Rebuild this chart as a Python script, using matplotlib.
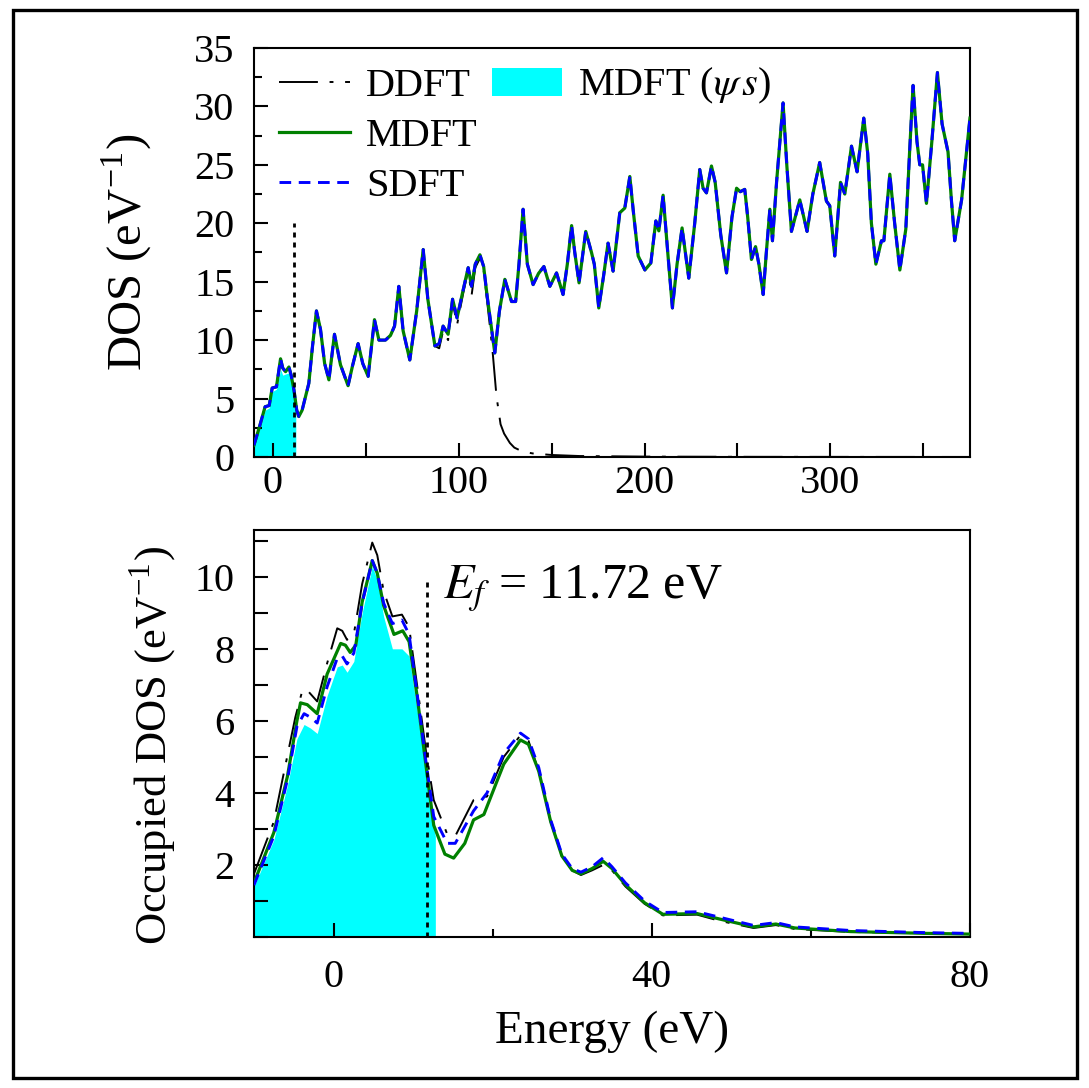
import matplotlib
matplotlib.use('Agg')
import matplotlib.pyplot as plt
import matplotlib.ticker as mticker
from matplotlib.lines import Line2D
from matplotlib.patches import Patch, Rectangle

plt.rcParams['font.family'] = 'Liberation Serif'
plt.rcParams['mathtext.fontset'] = 'stix'

# ---- top panel: full DOS ----
e_top = [-10, -7, -4.0, -1.8, -0.2, 2.1, 4.3, 5.5, 7.0, 8.8, 10.0, 11.5, 13.0, 14.1, 15.9,
         19.5, 21.5, 23.6, 25.8, 28, 30.3, 33.3, 36.5, 40.6, 43, 46.0, 48.5, 51.4, 54.8,
         57.2, 60.7, 63.4, 65.6, 67.9, 70.2, 73.8, 77.5, 81.0, 83.5, 87.3, 89.6, 91.7,
         94.4, 96.8, 99.2, 102.5, 105.2, 107.0, 109, 111.5, 113.5, 115.4, 119.5, 122,
         124.9, 128.5, 130.7, 132.5, 134.7, 137, 140.1, 143, 145.9, 149.1, 152.7, 156.2,
         158.5, 160.8, 162.5, 164.8, 168.4, 171.5, 173, 175.4, 178, 180.4, 183.1, 186.7,
         189.4, 192.1, 194, 196.6, 200.2, 203.4, 206.1, 207.7, 210.0, 212.5, 215.0, 217.5,
         220.2, 223.8, 227.0, 229.7, 231.5, 233.3, 236.0, 238, 241, 244.1, 247, 249.5,
         251.5, 253.9, 255.5, 257.5, 259.7, 261.5, 263.8, 265.5, 267.4, 268.8, 271, 274.5,
         276.5, 279.0, 283.5, 287.4, 290.5, 294.2, 297.8, 299.6, 302.3, 305.4, 307.7,
         311.3, 314.3, 317.9, 320, 322, 324.4, 327.4, 328.7, 331.9, 334.5, 337.3, 340.5,
         342.5, 344.4, 346.5, 348.0, 349.5, 351.6, 354.5, 357.5, 360, 363.2, 365, 366.8,
         370.5, 374.5, 375]
mdft_top = [1.0, 2.6, 4.3, 4.4, 5.9, 6.0, 8.4, 7.6, 7.3, 7.7, 7.0, 5.75, 4.0, 3.46, 4.0,
            6.3, 9.5, 12.5, 10.9, 8.0, 6.6, 10.5, 7.9, 6.1, 7.8, 9.7, 8.0, 6.9, 11.75,
            10.0, 10.0, 10.4, 11.2, 14.6, 10.8, 8.3, 12.5, 17.75, 13.5, 9.5, 9.7, 11.2,
            10.5, 13.5, 11.9, 14.3, 16.2, 14.6, 16.5, 17.3, 16.3, 13.75, 8.9, 12.5,
            15.2, 13.3, 13.3, 16.5, 21.2, 16.5, 14.75, 15.7, 16.3, 14.6, 15.75, 13.9,
            16.5, 19.8, 17.5, 14.9, 19.3, 17.5, 16.5, 12.75, 15.5, 18.3, 15.9, 20.9,
            21.3, 24.0, 21.0, 17.2, 16.0, 16.6, 20.2, 19.35, 22.4, 17.5, 12.75, 16.5,
            19.6, 15.3, 20.0, 24.6, 23.0, 22.6, 24.9, 23.5, 19.0, 15.75, 20.5, 23.0,
            22.7, 22.9, 20.5, 16.9, 18.0, 16.5, 13.9, 17.5, 21.2, 18.5, 23.5, 30.3,
            25.0, 19.3, 22.0, 19.3, 22.5, 25.2, 21.9, 21.5, 17.2, 23.5, 22.5,
            26.6, 24.4, 29.0, 26.0, 20.0, 16.5, 18.5, 18.5, 24.2, 20.0, 16.0, 19.5,
            26.0, 31.8, 27.0, 25.0, 25.0, 21.7, 27.0, 32.9, 28.5, 26.1, 22.0, 18.5,
            22.0, 28.3, 29.0]
sdft_top = list(mdft_top)

e_ddft_top = [-10, -7, -4.0, -1.8, -0.2, 2.1, 4.3, 5.5, 7.0, 8.8, 10.0, 11.5, 13.0, 14.1,
              15.9, 19.5, 21.5, 23.6, 25.8, 28, 30.3, 33.3, 36.5, 40.6, 43, 46.0, 48.5,
              51.4, 54.8, 57.2, 60.7, 63.4, 65.6, 67.9, 70.2, 73.8, 77.5, 81.0, 83.5,
              87.3, 89.6, 91.7, 94.4, 96.8, 99.2, 102.5, 105.2, 107.0, 109, 111.5, 113.5,
              115.4, 117, 118.5, 120.4, 122.6, 124.5, 127.6, 130, 134.6, 140, 150, 165,
              200, 260, 375]
ddft_top = [1.0, 2.6, 4.3, 4.4, 5.9, 6.0, 8.4, 7.6, 7.3, 7.7, 7.0, 5.75, 4.0, 3.46,
            4.0, 6.3, 9.5, 12.5, 10.9, 8.0, 6.6, 10.5, 7.9, 6.1, 7.8, 9.7, 8.0,
            6.9, 11.75, 10.0, 10.0, 10.4, 11.2, 14.6, 10.8, 8.3, 12.5, 17.75, 13.5,
            9.5, 9.3, 10.8, 10.0, 13.3, 11.3, 14.0, 16.0, 13.8, 16.2, 17.0, 16.0,
            13.3, 11.0, 8.7, 5.2, 2.8, 2.0, 1.2, 0.8, 0.45, 0.3, 0.17, 0.08,
            0.03, 0.01, 0.0]

e_fill_top = [-10, -7, -4.0, -1.8, -0.2, 2.1, 4.3, 5.5, 7.0, 8.8, 10.0, 11.5, 12.5]
fill_top = [0.9, 2.4, 4.0, 4.2, 5.6, 5.8, 7.5, 7.0, 7.1, 7.2, 6.5, 5.3, 4.5]

# ---- bottom panel: occupied DOS ----
e_sdft = [-10, -7.5, -5.8, -4.6, -3.7, -2.9, -2.05, -0.8, 0.47, 1.1, 1.7, 2.55, 3.6, 4.87,
          5.5, 6.3, 7.4, 8.6, 9.5, 10.5, 11.6, 12.6, 14.3, 15.3, 17.6, 19.3, 21.4, 23.5,
          24.5, 25.8, 27.3, 28.7, 30, 31.1, 32.5, 33.9, 35, 36.7, 39.1, 41.4, 45.7, 48.5,
          52.8, 55.6, 58, 65, 74.5, 80]
sdft_occ = [1.44, 2.8, 4.36, 5.84, 6.2, 6.1, 5.94, 6.95, 7.74, 7.8, 7.58, 7.88, 9.27, 10.45,
            10.1, 9.27, 8.7, 8.8, 8.4, 6.77, 4.9, 3.34, 2.6, 2.6, 3.5, 4.0, 5.1, 5.66,
            5.5, 4.7, 3.25, 2.3, 1.9, 1.8, 1.95, 2.2, 1.95, 1.5, 1.0, 0.68, 0.7, 0.55,
            0.32, 0.4, 0.28, 0.18, 0.12, 0.1]

e_ddft = [-10, -7.5, -6.25, -4.8, -3.9, -3.3, -2.05, -0.8, 0.47, 1.1, 1.7, 2.55, 3.6, 4.87,
          5.5, 6.3, 7.4, 8.6, 9.5, 10.5, 11.6, 12.6, 14.3, 15.3, 17.6, 19.3, 21.4, 23.5,
          24.5, 25.8, 27.3, 28.7, 30, 31.1, 32.5, 33.9, 35, 36.7, 39.1, 41.4, 45.7, 48.5,
          52.8, 55.6, 58, 65, 74.5, 80]
ddft_occ = [1.75, 3.2, 4.55, 6.1, 6.86, 6.85, 6.54, 7.6, 8.57, 8.5, 8.25, 8.4, 9.8, 10.95,
            10.6, 9.6, 8.9, 8.95, 8.6, 7.0, 5.2, 3.8, 2.85, 2.8, 3.8, 3.9, 5.0, 5.6,
            5.45, 4.6, 3.2, 2.25, 1.85, 1.72, 1.85, 2.0, 1.85, 1.4, 0.92, 0.6, 0.62, 0.45,
            0.25, 0.33, 0.22, 0.14, 0.1, 0.08]

e_mdft = [-10, -7.5, -5.8, -4.6, -4.15, -3.3, -2.05, -0.8, 0.9, 1.5, 2.1, 2.8, 3.6, 4.87,
          5.5, 6.3, 7.6, 8.7, 9.5, 10.5, 11.6, 12.6, 14.0, 15.1, 16.5, 17.6, 18.9, 20.5,
          21.4, 23.5, 24.5, 25.8, 27.3, 28.7, 30, 31.1, 32.5, 33.9, 35, 36.7, 39.1, 41.4,
          45.7, 48.5, 52.8, 55.6, 58, 65, 74.5, 80]
mdft_occ = [1.5, 2.9, 4.45, 6.0, 6.5, 6.45, 6.2, 7.3, 8.15, 8.1, 7.9, 8.1, 9.3, 10.45,
            10.1, 9.2, 8.4, 8.5, 8.2, 6.7, 4.8, 3.1, 2.3, 2.19, 2.6, 3.25, 3.4, 4.3,
            4.8, 5.47, 5.35, 4.6, 3.2, 2.25, 1.85, 1.75, 1.9, 2.1, 1.9, 1.45, 0.95, 0.63,
            0.65, 0.5, 0.28, 0.36, 0.25, 0.15, 0.1, 0.08]

e_fill = [-10, -7.5, -5.8, -4.6, -3.7, -2.9, -2.05, -0.8, 0.47, 1.1, 1.7, 2.55, 3.6, 4.87,
          5.5, 6.3, 7.4, 8.6, 9.5, 10.5, 11.6, 12.6, 12.8]
fill_occ = [1.4, 2.7, 4.2, 5.5, 5.9, 5.8, 5.65, 6.7, 7.5, 7.55, 7.35, 7.65, 9.0, 10.3,
            9.9, 8.9, 8.0, 8.0, 7.8, 6.3, 4.5, 3.0, 2.8]

e_fermi = 11.72

ddft_style = dict(color='black', lw=1.4, linestyle=(0, (20, 6, 2, 6)))
mdft_style = dict(color='green', lw=2.3)
sdft_style = dict(color='blue', lw=2.1, linestyle=(0, (4, 2.6)))

fig = plt.figure(figsize=(10.89, 10.88), dpi=100)
ax1 = fig.add_axes([0.2332, 0.5800, 0.6575, 0.3759])
ax2 = fig.add_axes([0.2332, 0.1388, 0.6575, 0.3741])

# top
ax1.fill_between(e_fill_top, 0, fill_top, color='cyan', lw=0, zorder=1)
ax1.plot(e_ddft_top, ddft_top, zorder=2, **ddft_style)
ax1.plot(e_top, mdft_top, zorder=3, **mdft_style)
ax1.plot(e_top, sdft_top, zorder=4, **sdft_style)
ax1.plot([e_fermi, e_fermi], [0, 20], color='black', lw=2.0, linestyle=(0, (1.8, 1.8)), zorder=5)
ax1.set_xlim(-10, 375)
ax1.set_ylim(0, 35)
ax1.xaxis.set_major_locator(mticker.MultipleLocator(100))
ax1.xaxis.set_minor_locator(mticker.MultipleLocator(50))
ax1.yaxis.set_major_locator(mticker.MultipleLocator(5))
ax1.yaxis.set_minor_locator(mticker.MultipleLocator(2.5))
ax1.set_ylabel(r'DOS (eV$^{\mathregular{-1}}$)', fontsize=35)
ax1.yaxis.set_label_coords(-0.141, 0.5)

handles = [Line2D([], [], **ddft_style), Line2D([], [], **mdft_style),
           Line2D([], [], **sdft_style), Patch(facecolor='cyan', edgecolor='none'),
           Line2D([], [], alpha=0), Line2D([], [], alpha=0)]
labels = ['DDFT', 'MDFT', 'SDFT', r'MDFT ($\psi\,s$)', ' ', ' ']
ax1.legend(handles, labels, ncol=2, loc='upper left', bbox_to_anchor=(0.01, 1.0),
           frameon=False, fontsize=29, handlelength=1.75, handletextpad=0.4,
           columnspacing=0.35, labelspacing=0.32, borderaxespad=0.25, borderpad=0.2)

# bottom
ax2.fill_between(e_fill, 0, fill_occ, color='cyan', lw=0, zorder=1)
ax2.plot(e_ddft, ddft_occ, zorder=2, **ddft_style)
ax2.plot(e_mdft, mdft_occ, zorder=3, **mdft_style)
ax2.plot(e_sdft, sdft_occ, zorder=4, **sdft_style)
ax2.plot([e_fermi, e_fermi], [0, 9.85], color='black', lw=2.0, linestyle=(0, (1.8, 1.8)), zorder=5)
ax2.set_xlim(-10, 80)
ax2.set_ylim(0, 11.3)
ax2.xaxis.set_major_locator(mticker.MultipleLocator(40))
ax2.xaxis.set_minor_locator(mticker.MultipleLocator(20))
ax2.yaxis.set_major_locator(mticker.MultipleLocator(2))
ax2.yaxis.set_minor_locator(mticker.MultipleLocator(1))
ax2.yaxis.set_major_formatter(mticker.FuncFormatter(lambda v, p: '' if v == 0 else '%d' % v))
ax2.set_ylabel(r'Occupied DOS (eV$^{\mathregular{-1}}$)', fontsize=32)
ax2.yaxis.set_label_coords(-0.106, 0.47)
ax2.set_xlabel('Energy (eV)', fontsize=34, labelpad=10)
ax2.text(13.8, 9.4, r'$E_f$ = 11.72 eV', fontsize=36)

for ax in (ax1, ax2):
    for s in ax.spines.values():
        s.set_linewidth(1.5)
    ax.tick_params(which='both', direction='in', width=1.5, top=False, right=False,
                   labelsize=29)
    ax.tick_params(axis='y', which='major', length=10, pad=14)
    ax.tick_params(axis='y', which='minor', length=6)

ax1.tick_params(axis='x', which='both', length=10, pad=6)
ax2.tick_params(axis='x', which='major', length=10, pad=16)
ax2.tick_params(axis='x', which='minor', length=6)
ax2.tick_params(axis='y', which='minor', length=10)

fig.patches.append(Rectangle((0.012, 0.009), 0.977, 0.982, transform=fig.transFigure,
                             fill=False, lw=2.4, edgecolor='black'))

fig.savefig('out.png', dpi=100)
